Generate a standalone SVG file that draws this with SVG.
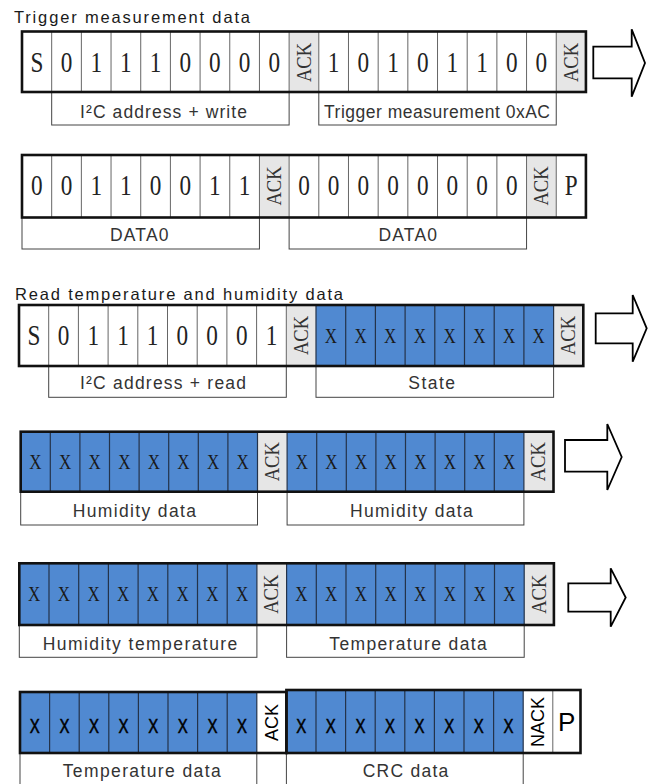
<svg xmlns="http://www.w3.org/2000/svg" width="653" height="784" viewBox="0 0 653 784">
<style>
.bg{fill:#fff}
.ackbg{fill:#e6e6e6}
.blue{fill:#5089d1}
.dv{fill:none;stroke:#666;stroke-width:1}
.dvb{fill:none;stroke:#24334a;stroke-width:1.2}
.frame{fill:none;stroke:#111;stroke-width:2.6}
.lbl{fill:#fff;stroke:#444;stroke-width:1}
.b{font-family:"Liberation Serif",serif;font-size:29px;fill:#222;text-anchor:middle;dominant-baseline:central}
.x{font-family:"Liberation Serif",serif;font-size:20px;fill:#1a1a1a;text-anchor:middle;dominant-baseline:central}
.ack{font-family:"Liberation Serif",serif;font-size:20px;fill:#333;text-anchor:middle;dominant-baseline:central}
.sx{font-family:"Liberation Sans",Arial,sans-serif;font-size:20px;fill:#000;stroke:#000;stroke-width:0.5;text-anchor:middle;dominant-baseline:central}
.sack{font-family:"Liberation Sans",Arial,sans-serif;font-size:18px;fill:#000;text-anchor:middle;dominant-baseline:central}
.lt{font-family:"Liberation Sans",Arial,sans-serif;font-size:17.5px;fill:#333}
.tt{font-family:"Liberation Sans",Arial,sans-serif;font-size:16.5px;fill:#1a1a1a}
.arrow{fill:#fff;stroke:#000;stroke-width:1.8;stroke-linejoin:miter}
</style>

<text class="tt" x="14" y="22.5" textLength="236" lengthAdjust="spacing">Trigger measurement data</text>
<text class="tt" x="15" y="300" textLength="328" lengthAdjust="spacing">Read temperature and humidity data</text>

<!-- Row 1 -->
<g id="row1">
<rect class="lbl" x="51.68" y="92" width="237.44" height="33"/>
<rect class="lbl" x="318.8" y="92" width="237.44" height="33"/>
<text class="lt" x="80" y="118.3" textLength="167" lengthAdjust="spacing">I²C address + write</text>
<text class="lt" x="324" y="118.3" textLength="226" lengthAdjust="spacing">Trigger measurement 0xAC</text>
<rect class="bg" x="22" y="31.5" width="563.92" height="60.5"/>
<rect class="ackbg" x="289.12" y="31.5" width="29.68" height="60.5"/>
<rect class="ackbg" x="556.24" y="31.5" width="29.68" height="60.5"/>
<path class="dv" d="M51.68 31.5v60.5M81.36 31.5v60.5M111.04 31.5v60.5M140.72 31.5v60.5M170.4 31.5v60.5M200.08 31.5v60.5M229.76 31.5v60.5M259.44 31.5v60.5M289.12 31.5v60.5M318.8 31.5v60.5M348.48 31.5v60.5M378.16 31.5v60.5M407.84 31.5v60.5M437.52 31.5v60.5M467.2 31.5v60.5M496.88 31.5v60.5M526.56 31.5v60.5M556.24 31.5v60.5"/>
<rect class="frame" x="22" y="31.5" width="563.92" height="60.5"/>
<text class="b" transform="translate(36.84,62.5) scale(0.8,1)">S</text>
<text class="b" transform="translate(66.52,62.5) scale(0.8,1)">0</text>
<text class="b" transform="translate(96.2,62.5) scale(0.8,1)">1</text>
<text class="b" transform="translate(125.88,62.5) scale(0.8,1)">1</text>
<text class="b" transform="translate(155.56,62.5) scale(0.8,1)">1</text>
<text class="b" transform="translate(185.24,62.5) scale(0.8,1)">0</text>
<text class="b" transform="translate(214.92,62.5) scale(0.8,1)">0</text>
<text class="b" transform="translate(244.6,62.5) scale(0.8,1)">0</text>
<text class="b" transform="translate(274.28,62.5) scale(0.8,1)">0</text>
<text class="ack" transform="translate(303.96,62.5) rotate(-90) scale(0.93,1)">ACK</text>
<text class="b" transform="translate(333.64,62.5) scale(0.8,1)">1</text>
<text class="b" transform="translate(363.32,62.5) scale(0.8,1)">0</text>
<text class="b" transform="translate(393,62.5) scale(0.8,1)">1</text>
<text class="b" transform="translate(422.68,62.5) scale(0.8,1)">0</text>
<text class="b" transform="translate(452.36,62.5) scale(0.8,1)">1</text>
<text class="b" transform="translate(482.04,62.5) scale(0.8,1)">1</text>
<text class="b" transform="translate(511.72,62.5) scale(0.8,1)">0</text>
<text class="b" transform="translate(541.4,62.5) scale(0.8,1)">0</text>
<text class="ack" transform="translate(571.08,62.5) rotate(-90) scale(0.93,1)">ACK</text>
</g>

<!-- Row 2 -->
<g id="row2">
<rect class="lbl" x="22" y="217.5" width="237.44" height="31.5"/>
<rect class="lbl" x="289.12" y="217.5" width="237.44" height="31.5"/>
<text class="lt" x="110" y="241" textLength="58.5" lengthAdjust="spacing">DATA0</text>
<text class="lt" x="378.5" y="241" textLength="58.5" lengthAdjust="spacing">DATA0</text>
<rect class="bg" x="22" y="155" width="563.92" height="62.5"/>
<rect class="ackbg" x="259.44" y="155" width="29.68" height="62.5"/>
<rect class="ackbg" x="526.56" y="155" width="29.68" height="62.5"/>
<path class="dv" d="M51.68 155v62.5M81.36 155v62.5M111.04 155v62.5M140.72 155v62.5M170.4 155v62.5M200.08 155v62.5M229.76 155v62.5M259.44 155v62.5M289.12 155v62.5M318.8 155v62.5M348.48 155v62.5M378.16 155v62.5M407.84 155v62.5M437.52 155v62.5M467.2 155v62.5M496.88 155v62.5M526.56 155v62.5M556.24 155v62.5"/>
<rect class="frame" x="22" y="155" width="563.92" height="62.5"/>
<text class="b" transform="translate(36.84,185.5) scale(0.8,1)">0</text>
<text class="b" transform="translate(66.52,185.5) scale(0.8,1)">0</text>
<text class="b" transform="translate(96.2,185.5) scale(0.8,1)">1</text>
<text class="b" transform="translate(125.88,185.5) scale(0.8,1)">1</text>
<text class="b" transform="translate(155.56,185.5) scale(0.8,1)">0</text>
<text class="b" transform="translate(185.24,185.5) scale(0.8,1)">0</text>
<text class="b" transform="translate(214.92,185.5) scale(0.8,1)">1</text>
<text class="b" transform="translate(244.6,185.5) scale(0.8,1)">1</text>
<text class="ack" transform="translate(274.28,186) rotate(-90) scale(0.93,1)">ACK</text>
<text class="b" transform="translate(303.96,185.5) scale(0.8,1)">0</text>
<text class="b" transform="translate(333.64,185.5) scale(0.8,1)">0</text>
<text class="b" transform="translate(363.32,185.5) scale(0.8,1)">0</text>
<text class="b" transform="translate(393,185.5) scale(0.8,1)">0</text>
<text class="b" transform="translate(422.68,185.5) scale(0.8,1)">0</text>
<text class="b" transform="translate(452.36,185.5) scale(0.8,1)">0</text>
<text class="b" transform="translate(482.04,185.5) scale(0.8,1)">0</text>
<text class="b" transform="translate(511.72,185.5) scale(0.8,1)">0</text>
<text class="ack" transform="translate(541.4,186) rotate(-90) scale(0.93,1)">ACK</text>
<text class="b" transform="translate(571.08,185.5) scale(0.8,1)">P</text>
</g>

<!-- Row 3 -->
<g id="row3">
<rect class="lbl" x="48.7" y="366" width="237.6" height="31.3"/>
<rect class="lbl" x="316" y="366" width="237.6" height="31.3"/>
<text class="lt" x="80" y="389.3" textLength="166" lengthAdjust="spacing">I²C address + read</text>
<text class="lt" x="408.3" y="389.3" textLength="46.7" lengthAdjust="spacing">State</text>
<rect class="bg" x="19" y="305" width="564.3" height="61"/>
<rect class="ackbg" x="286.3" y="305" width="29.7" height="61"/>
<rect class="blue" x="316" y="305" width="237.6" height="61"/>
<rect class="ackbg" x="553.6" y="305" width="29.7" height="61"/>
<path class="dv" d="M48.7 305v61M78.4 305v61M108.1 305v61M137.8 305v61M167.5 305v61M197.2 305v61M226.9 305v61M256.6 305v61M286.3 305v61"/>
<path class="dvb" d="M316 305v61M345.7 305v61M375.4 305v61M405.1 305v61M434.8 305v61M464.5 305v61M494.2 305v61M523.9 305v61M553.6 305v61"/>
<rect class="frame" x="19" y="305" width="564.3" height="61"/>
<text class="b" transform="translate(33.85,335.5) scale(0.8,1)">S</text>
<text class="b" transform="translate(63.55,335.5) scale(0.8,1)">0</text>
<text class="b" transform="translate(93.25,335.5) scale(0.8,1)">1</text>
<text class="b" transform="translate(122.95,335.5) scale(0.8,1)">1</text>
<text class="b" transform="translate(152.65,335.5) scale(0.8,1)">1</text>
<text class="b" transform="translate(182.35,335.5) scale(0.8,1)">0</text>
<text class="b" transform="translate(212.05,335.5) scale(0.8,1)">0</text>
<text class="b" transform="translate(241.75,335.5) scale(0.8,1)">0</text>
<text class="b" transform="translate(271.45,335.5) scale(0.8,1)">1</text>
<text class="ack" transform="translate(301.15,335.5) rotate(-90) scale(0.93,1)">ACK</text>
<text class="x" transform="translate(330.85,335.5) scale(0.85,1)">X</text>
<text class="x" transform="translate(360.55,335.5) scale(0.85,1)">X</text>
<text class="x" transform="translate(390.25,335.5) scale(0.85,1)">X</text>
<text class="x" transform="translate(419.95,335.5) scale(0.85,1)">X</text>
<text class="x" transform="translate(449.65,335.5) scale(0.85,1)">X</text>
<text class="x" transform="translate(479.35,335.5) scale(0.85,1)">X</text>
<text class="x" transform="translate(509.05,335.5) scale(0.85,1)">X</text>
<text class="x" transform="translate(538.75,335.5) scale(0.85,1)">X</text>
<text class="ack" transform="translate(568.45,335.5) rotate(-90) scale(0.93,1)">ACK</text>
</g>

<!-- Row 4 -->
<g id="row4">
<rect class="lbl" x="20.7" y="491.7" width="236.8" height="33.3"/>
<rect class="lbl" x="287.1" y="491.7" width="236.8" height="33.3"/>
<text class="lt" x="72.7" y="516.7" textLength="123.3" lengthAdjust="spacing">Humidity data</text>
<text class="lt" x="350" y="516.7" textLength="122.7" lengthAdjust="spacing">Humidity data</text>
<rect class="blue" x="20.7" y="431.7" width="532.8" height="60"/>
<rect class="ackbg" x="257.5" y="431.7" width="29.6" height="60"/>
<rect class="ackbg" x="523.9" y="431.7" width="29.6" height="60"/>
<path class="dvb" d="M50.3 431.7v60M79.9 431.7v60M109.5 431.7v60M139.1 431.7v60M168.7 431.7v60M198.3 431.7v60M227.9 431.7v60M257.5 431.7v60M287.1 431.7v60M316.7 431.7v60M346.3 431.7v60M375.9 431.7v60M405.5 431.7v60M435.1 431.7v60M464.7 431.7v60M494.3 431.7v60M523.9 431.7v60"/>
<rect class="frame" x="20.7" y="431.7" width="532.8" height="60"/>
<text class="x" transform="translate(35.5,461.7) scale(0.85,1)">X</text>
<text class="x" transform="translate(65.1,461.7) scale(0.85,1)">X</text>
<text class="x" transform="translate(94.7,461.7) scale(0.85,1)">X</text>
<text class="x" transform="translate(124.3,461.7) scale(0.85,1)">X</text>
<text class="x" transform="translate(153.9,461.7) scale(0.85,1)">X</text>
<text class="x" transform="translate(183.5,461.7) scale(0.85,1)">X</text>
<text class="x" transform="translate(213.1,461.7) scale(0.85,1)">X</text>
<text class="x" transform="translate(242.7,461.7) scale(0.85,1)">X</text>
<text class="ack" transform="translate(272.3,461.7) rotate(-90) scale(0.93,1)">ACK</text>
<text class="x" transform="translate(301.9,461.7) scale(0.85,1)">X</text>
<text class="x" transform="translate(331.5,461.7) scale(0.85,1)">X</text>
<text class="x" transform="translate(361.1,461.7) scale(0.85,1)">X</text>
<text class="x" transform="translate(390.7,461.7) scale(0.85,1)">X</text>
<text class="x" transform="translate(420.3,461.7) scale(0.85,1)">X</text>
<text class="x" transform="translate(449.9,461.7) scale(0.85,1)">X</text>
<text class="x" transform="translate(479.5,461.7) scale(0.85,1)">X</text>
<text class="x" transform="translate(509.1,461.7) scale(0.85,1)">X</text>
<text class="ack" transform="translate(538.7,461.7) rotate(-90) scale(0.93,1)">ACK</text>
</g>

<!-- Row 5 -->
<g id="row5">
<rect class="lbl" x="19.3" y="625" width="237.6" height="32.3"/>
<rect class="lbl" x="286.6" y="625" width="237.6" height="32.3"/>
<text class="lt" x="42.7" y="650" textLength="194.6" lengthAdjust="spacing">Humidity temperature</text>
<text class="lt" x="329.3" y="650" textLength="157.4" lengthAdjust="spacing">Temperature data</text>
<rect class="blue" x="19.3" y="563.3" width="534.6" height="61.7"/>
<rect class="ackbg" x="256.9" y="563.3" width="29.7" height="61.7"/>
<rect class="ackbg" x="524.2" y="563.3" width="29.7" height="61.7"/>
<path class="dvb" d="M49 563.3v61.7M78.7 563.3v61.7M108.4 563.3v61.7M138.1 563.3v61.7M167.8 563.3v61.7M197.5 563.3v61.7M227.2 563.3v61.7M256.9 563.3v61.7M286.6 563.3v61.7M316.3 563.3v61.7M346 563.3v61.7M375.7 563.3v61.7M405.4 563.3v61.7M435.1 563.3v61.7M464.8 563.3v61.7M494.5 563.3v61.7M524.2 563.3v61.7"/>
<rect class="frame" x="19.3" y="563.3" width="534.6" height="61.7"/>
<text class="x" transform="translate(34.15,594.2) scale(0.85,1)">X</text>
<text class="x" transform="translate(63.85,594.2) scale(0.85,1)">X</text>
<text class="x" transform="translate(93.55,594.2) scale(0.85,1)">X</text>
<text class="x" transform="translate(123.25,594.2) scale(0.85,1)">X</text>
<text class="x" transform="translate(152.95,594.2) scale(0.85,1)">X</text>
<text class="x" transform="translate(182.65,594.2) scale(0.85,1)">X</text>
<text class="x" transform="translate(212.35,594.2) scale(0.85,1)">X</text>
<text class="x" transform="translate(242.05,594.2) scale(0.85,1)">X</text>
<text class="ack" transform="translate(271.75,594.2) rotate(-90) scale(0.93,1)">ACK</text>
<text class="x" transform="translate(301.45,594.2) scale(0.85,1)">X</text>
<text class="x" transform="translate(331.15,594.2) scale(0.85,1)">X</text>
<text class="x" transform="translate(360.85,594.2) scale(0.85,1)">X</text>
<text class="x" transform="translate(390.55,594.2) scale(0.85,1)">X</text>
<text class="x" transform="translate(420.25,594.2) scale(0.85,1)">X</text>
<text class="x" transform="translate(449.95,594.2) scale(0.85,1)">X</text>
<text class="x" transform="translate(479.65,594.2) scale(0.85,1)">X</text>
<text class="x" transform="translate(509.35,594.2) scale(0.85,1)">X</text>
<text class="ack" transform="translate(539.05,594.2) rotate(-90) scale(0.93,1)">ACK</text>
</g>

<!-- Row 6 -->
<g id="row6">
<rect class="lbl" x="20" y="753" width="236.8" height="40"/>
<rect class="lbl" x="286.4" y="753" width="236.8" height="40"/>
<text class="lt" x="62.7" y="777.3" textLength="158" lengthAdjust="spacing">Temperature data</text>
<text class="lt" x="362.7" y="777.3" textLength="85.6" lengthAdjust="spacing">CRC data</text>
<rect class="blue" x="20" y="692" width="266.4" height="61"/>
<rect class="bg" x="256.8" y="692" width="29.6" height="61"/>
<rect class="blue" x="286.4" y="690" width="236.8" height="63"/>
<rect class="bg" x="523.2" y="690" width="57.3" height="63"/>
<path class="dvb" d="M49.6 692v61M79.2 692v61M108.8 692v61M138.4 692v61M168 692v61M197.6 692v61M227.2 692v61M256.8 692v61M316 690v63M345.6 690v63M375.2 690v63M404.8 690v63M434.4 690v63M464 690v63M493.6 690v63M523.2 690v63"/>
<path class="dv" d="M552.8 690v63"/>
<rect class="frame" x="20" y="692" width="266.4" height="61"/>
<rect class="frame" x="286.4" y="690" width="294.1" height="63"/>
<text class="sx" transform="translate(34.8,726) scale(0.75,1)">X</text>
<text class="sx" transform="translate(64.4,726) scale(0.75,1)">X</text>
<text class="sx" transform="translate(94,726) scale(0.75,1)">X</text>
<text class="sx" transform="translate(123.6,726) scale(0.75,1)">X</text>
<text class="sx" transform="translate(153.2,726) scale(0.75,1)">X</text>
<text class="sx" transform="translate(182.8,726) scale(0.75,1)">X</text>
<text class="sx" transform="translate(212.4,726) scale(0.75,1)">X</text>
<text class="sx" transform="translate(242,726) scale(0.75,1)">X</text>
<text class="sack" transform="translate(271.6,722.5) rotate(-90)">ACK</text>
<text class="sx" transform="translate(301.2,726) scale(0.75,1)">X</text>
<text class="sx" transform="translate(330.8,726) scale(0.75,1)">X</text>
<text class="sx" transform="translate(360.4,726) scale(0.75,1)">X</text>
<text class="sx" transform="translate(390,726) scale(0.75,1)">X</text>
<text class="sx" transform="translate(419.6,726) scale(0.75,1)">X</text>
<text class="sx" transform="translate(449.2,726) scale(0.75,1)">X</text>
<text class="sx" transform="translate(478.8,726) scale(0.75,1)">X</text>
<text class="sx" transform="translate(508.4,726) scale(0.75,1)">X</text>
<text class="sack" transform="translate(538,722) rotate(-90)">NACK</text>
<text class="sack" style="font-size:26px" transform="translate(566.7,722)">P</text>
</g>

<!-- Connectors (flow arrows) -->
<g id="connectors">
<polygon class="arrow" points="593.3,46.7 631.7,46.7 631.7,29.3 645,63 631.7,96.7 631.7,78.3 593.3,78.3"/>
<polygon class="arrow" points="595.7,313.3 632.7,313.3 632.7,295 646.7,328.3 632.7,361.7 632.7,343.3 595.7,343.3"/>
<polygon class="arrow" points="565,440 607.3,440 607.3,424 621.7,457 607.3,490 607.3,471.7 565,471.7"/>
<polygon class="arrow" points="568.3,583.3 610.7,583.3 610.7,568.3 625.7,597.5 610.7,626.7 610.7,611.7 568.3,611.7"/>
</g>
</svg>
